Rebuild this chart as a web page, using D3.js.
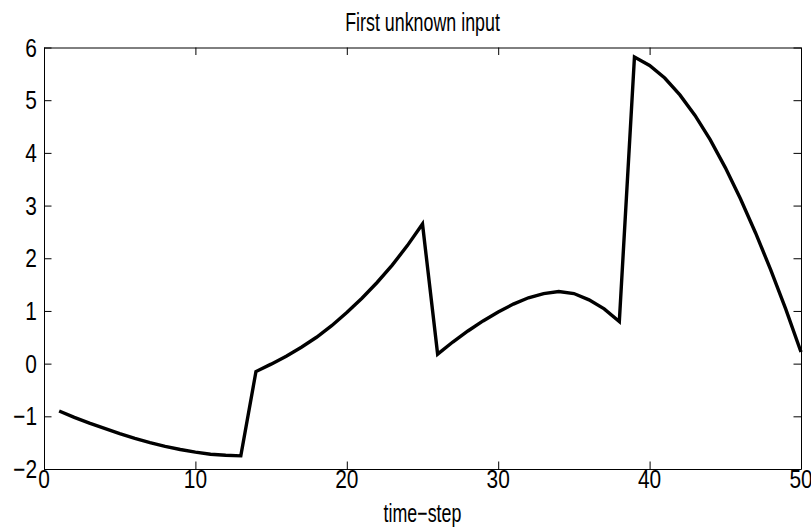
<!DOCTYPE html>
<html>
<head>
<meta charset="utf-8">
<script src="https://cdn.jsdelivr.net/npm/d3@7"></script>
<style>
  body { margin: 0; background: #fff; }
  svg text { font-family: "Liberation Sans", Arial, Helvetica, sans-serif; fill: #000; }
</style>
</head>
<body>
<div id="chart"></div>
<script>
// values, one per time-step
const steps = d3.range(1, 51)
const inputValues = [
  -0.90, -1.02, -1.13, -1.23, -1.33, -1.42, -1.50, -1.57, -1.63, -1.68,
  -1.72, -1.74, -1.75, -0.15, -0.01, 0.14, 0.31, 0.50, 0.72, 0.97,
  1.24, 1.54, 1.87, 2.24, 2.65, 0.18, 0.41, 0.62, 0.81, 0.98,
  1.13, 1.25, 1.33, 1.37, 1.33, 1.21, 1.04, 0.80, 5.82, 5.66,
  5.42, 5.10, 4.71, 4.25, 3.72, 3.13, 2.48, 1.78, 1.03, 0.22
]
const xTicks = [0, 10, 20, 30, 40, 50]
const yTicks = [-2, -1, 0, 1, 2, 3, 4, 5, 6]

const width = 811, height = 527
const margin = {top: 47.5, right: 10, bottom: 58, left: 44}

// the figure is stretched, text comes out tall and narrow
const fontSize = 25.5
const squeezeText = 0.70
const squeezeTick = 0.82

const svg = d3.select('#chart').append('svg')
    .attr('width', width)
    .attr('height', height)

// scales
const x = d3.scaleLinear().domain([0, 50]).range([margin.left, width - margin.right])
const y = d3.scaleLinear().domain([-2, 6]).range([height - margin.bottom, margin.top])

const tickLen = 7.5
const fmt = d => String(d).replace('-', '\u2212')

// put a squeezed text at (px, py)
function label(txt, px, py, anchor, sq) {
    return svg.append('text')
        .attr('transform', 'translate(' + px + ',' + py + ') scale(' + sq + ',1)')
        .attr('text-anchor', anchor)
        .attr('font-size', fontSize)
        .text(txt)
}

// bottom + top axes (ticks pointing inward)
svg.append('g')
    .attr('transform', 'translate(0,' + y(-2) + ')')
    .call(d3.axisBottom(x).tickValues(xTicks).tickSizeInner(-tickLen).tickSizeOuter(0).tickFormat(''))
svg.append('g')
    .attr('transform', 'translate(0,' + y(6) + ')')
    .call(d3.axisTop(x).tickValues(xTicks).tickSizeInner(-tickLen).tickSizeOuter(0).tickFormat(''))

// left + right axes
svg.append('g')
    .attr('transform', 'translate(' + x(0) + ',0)')
    .call(d3.axisLeft(y).tickValues(yTicks).tickSizeInner(-tickLen).tickSizeOuter(0).tickFormat(''))
svg.append('g')
    .attr('transform', 'translate(' + x(50) + ',0)')
    .call(d3.axisRight(y).tickValues(yTicks).tickSizeInner(-tickLen).tickSizeOuter(0).tickFormat(''))

svg.selectAll('.tick line').attr('stroke', '#000').attr('stroke-width', 1)
svg.selectAll('.domain').attr('stroke', '#000').attr('stroke-width', 1)

// tick labels
xTicks.forEach(t => label(fmt(t), x(t), y(-2) + 19, 'middle', squeezeTick))
yTicks.forEach(t => label(fmt(t), x(0) - 7, y(t) + 9, 'end', squeezeTick))

// the series
const line = d3.line()
    .x((d, i) => x(steps[i]))
    .y(d => y(d))

svg.append('path')
    .datum(inputValues)
    .attr('d', line)
    .attr('fill', 'none')
    .attr('stroke', '#000')
    .attr('stroke-width', 3.4)
    .attr('stroke-linejoin', 'miter')

// title + axis label
label('First unknown input', (x(0) + x(50)) / 2, 31, 'middle', squeezeText)
label('time\u2212step', (x(0) + x(50)) / 2, 522, 'middle', squeezeText)
</script>
</body>
</html>
